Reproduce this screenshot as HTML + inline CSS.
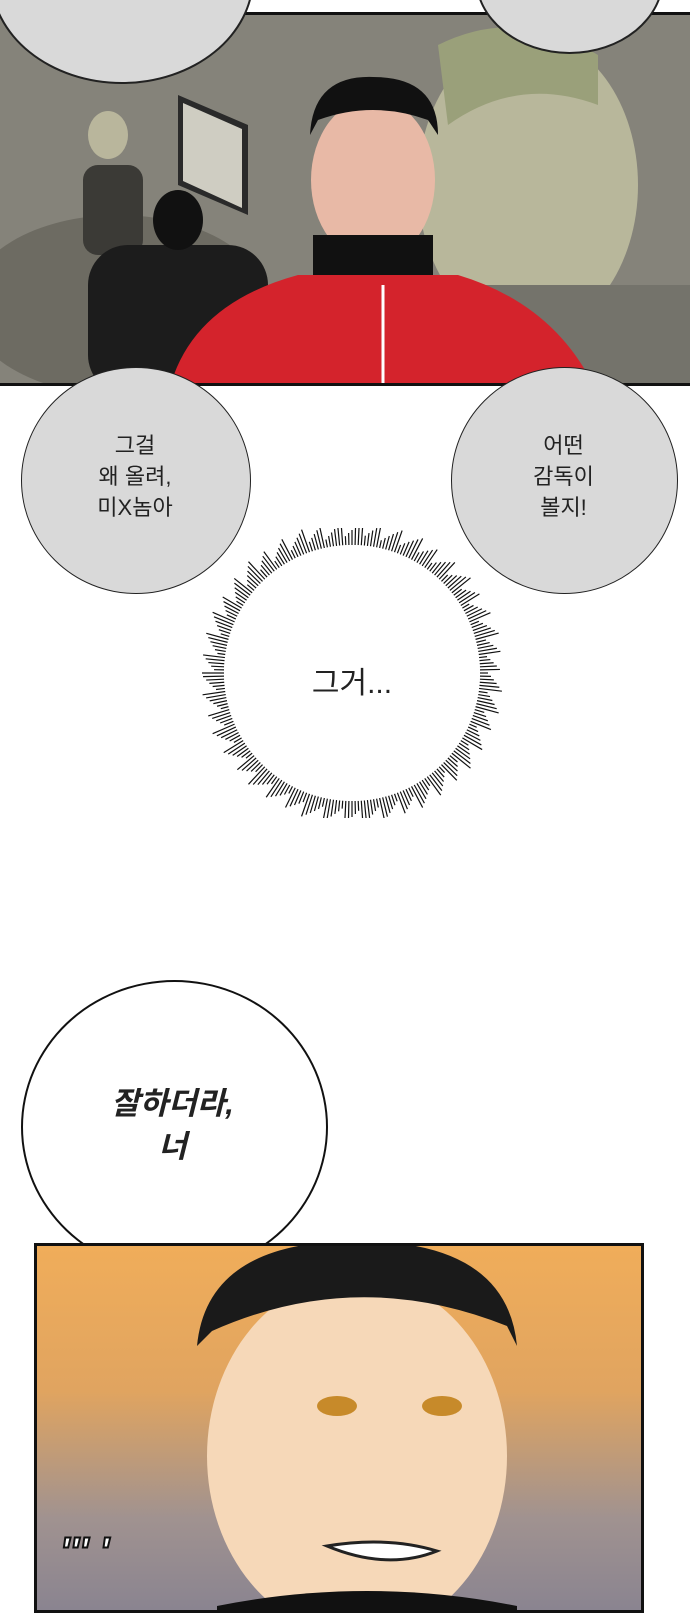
<!DOCTYPE html>
<html><head><meta charset="utf-8"><style>
html,body{margin:0;padding:0;background:#fff;}
body{width:690px;height:1600px;position:relative;overflow:hidden;font-family:"Liberation Sans","Noto Sans CJK KR",sans-serif;}
.abs{position:absolute;}
.t{position:absolute;text-align:center;color:#222;}
</style></head><body>
<!-- top panel -->
<div class="abs" style="left:-2px;top:12px;width:692px;height:374px;border-bottom:3px solid #111;border-top:3px solid #111;background:linear-gradient(90deg,#7c7b70,#8e8c80 40%,#6f6e66);box-sizing:border-box;overflow:hidden">
  <svg width="692" height="374" style="position:absolute;left:0;top:0">
    <rect x="0" y="0" width="692" height="374" fill="#85837a"/>
    <ellipse cx="120" cy="290" rx="150" ry="90" fill="#6d6b62"/>
    <polygon points="180,80 250,110 250,200 180,170" fill="#2a2a2a"/>
    <polygon points="185,88 244,114 244,193 185,166" fill="#cfcdc2"/>
    <ellipse cx="110" cy="120" rx="20" ry="24" fill="#b9b69c"/>
    <rect x="85" y="150" width="60" height="90" rx="15" fill="#3b3a36"/>
    <rect x="90" y="230" width="180" height="150" rx="40" fill="#1c1c1c"/>
    <ellipse cx="180" cy="205" rx="25" ry="30" fill="#111"/>
    <ellipse cx="530" cy="170" rx="110" ry="150" fill="#b8b79b"/>
    <path d="M440,30 Q520,-10 600,40 L600,90 Q520,60 450,110Z" fill="#9aa07a"/>
    <rect x="440" y="270" width="260" height="110" fill="#74736b"/>
    <ellipse cx="375" cy="165" rx="62" ry="82" fill="#e8b9a6"/>
    <path d="M312,120 Q315,60 375,62 Q440,62 440,120 L430,105 Q375,85 320,105Z" fill="#111"/>
    <rect x="315" y="220" width="120" height="60" fill="#111"/>
    <path d="M170,380 Q190,290 300,260 L390,260 L460,260 Q560,290 600,380Z" fill="#d4232c"/>
    <line x1="385" y1="270" x2="385" y2="380" stroke="#fff" stroke-width="3"/>
  </svg>
</div>
<!-- cut off top bubbles -->
<div class="abs" style="left:-10px;top:-130px;width:260px;height:210px;border-radius:50%;background:#d9d9d9;border:2px solid #222"></div>
<div class="abs" style="left:475px;top:-100px;width:185px;height:150px;border-radius:50%;background:#d9d9d9;border:2px solid #222"></div>

<!-- gray bubbles -->
<div class="abs" style="left:21px;top:367px;width:228px;height:225px;border-radius:50%;background:#d9d9d9;border:1.5px solid #222"></div>
<div class="t" style="left:21px;top:430px;width:228px;font-size:22px;line-height:31px">그걸<br>왜 올려,<br>미X놈아</div>
<div class="abs" style="left:451px;top:367px;width:225px;height:225px;border-radius:50%;background:#d9d9d9;border:1.5px solid #222"></div>
<div class="t" style="left:451px;top:430px;width:225px;font-size:22px;line-height:31px">어떤<br>감독이<br>볼지!</div>

<!-- spiky bubble -->
<svg class="abs" style="left:202px;top:528px" width="300" height="290">
  <g id="sp"></g>
  <circle cx="150" cy="145" r="128" fill="#fff"/>
</svg>
<div class="t" style="left:202px;top:658px;width:300px;font-size:30px">그거...</div>

<!-- white bubble -->
<div class="abs" style="left:21px;top:980px;width:303px;height:290px;border-radius:50%;background:#fff;border:2px solid #111"></div>
<div class="t" style="left:21px;top:1082px;width:303px;font-size:31px;line-height:43px;font-weight:bold;font-style:italic">잘하더라,<br>너</div>

<!-- bottom panel -->
<div class="abs" style="left:34px;top:1243px;width:610px;height:370px;border:3px solid #111;box-sizing:border-box;background:linear-gradient(180deg,#f0ad5a 0%,#e0a460 40%,#a09290 75%,#8a8490 100%);overflow:hidden">
  <svg width="610" height="370" style="position:absolute;left:0;top:0">
    <ellipse cx="320" cy="210" rx="150" ry="180" fill="#f6d8b8"/>
    <path d="M160,100 Q170,-5 320,-5 Q470,-5 480,100 L470,80 Q320,20 175,85Z" fill="#1a1a1a"/>
    <ellipse cx="300" cy="160" rx="20" ry="10" fill="#c78a2a"/>
    <ellipse cx="405" cy="160" rx="20" ry="10" fill="#c78a2a"/>
    <path d="M290,300 Q350,290 400,305 Q350,325 290,300Z" fill="#fff" stroke="#222" stroke-width="3"/>
    <path d="M180,360 Q330,330 480,360 L480,370 L180,370Z" fill="#111"/>
  </svg>
</div>
<div class="t" style="left:60px;top:1530px;font-size:40px;font-style:italic;font-weight:bold;color:#fff;-webkit-text-stroke:2px #111">''' '</div>
<script>
(function(){var g=document.getElementById('sp'),s='';for(var i=0;i<260;i++){var a=i/260*Math.PI*2,l=128+8+((i*37)%17);s+='<line x1="'+(150+128*Math.cos(a))+'" y1="'+(145+128*Math.sin(a))+'" x2="'+(150+l*Math.cos(a))+'" y2="'+(145+l*Math.sin(a))+'" stroke="#111" stroke-width="1.2"/>';}g.innerHTML=s;})();
</script>
</body></html>
